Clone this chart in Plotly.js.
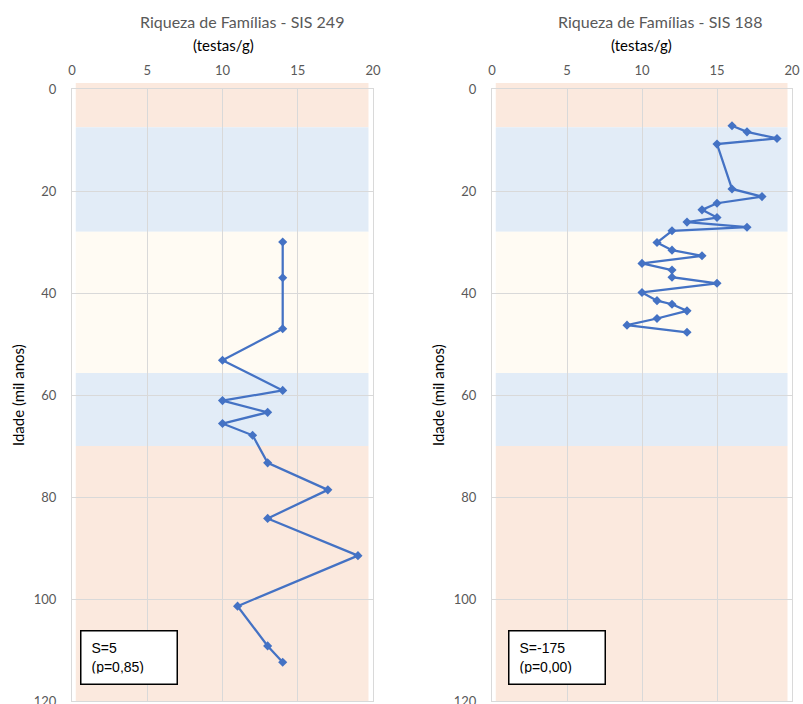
<!DOCTYPE html>
<html><head><meta charset="utf-8">
<script src="https://cdn.plot.ly/plotly-3.0.1.min.js"></script>
<style>body{margin:0;background:#fff}#chart{width:803px;height:704px}</style>
</head><body><div id="chart"></div>
<script>
// SIS 249
const ages249 = [30, 37, 47, 53.2, 59.1, 61.1, 63.4, 65.6, 67.9, 73.3, 78.6, 84.2, 91.5, 101.4, 109.2, 112.4];
const rich249 = [14, 14, 14, 10, 14, 10, 13, 10, 12, 13, 17, 13, 19, 11, 13, 14];
// SIS 188
const ages188 = [7.2, 8.4, 9.7, 10.8, 19.6, 21.1, 22.4, 23.7, 25.2, 26.1, 27.1, 27.8, 30.1, 31.6, 32.7, 34.2, 35.5, 36.9, 38.1, 39.9, 41.5, 42.2, 43.5, 45.0, 46.3, 47.7];
const rich188 = [16, 17, 19, 15, 16, 18, 15, 14, 15, 13, 17, 12, 11, 12, 14, 10, 12, 12, 15, 10, 11, 12, 13, 11, 9, 13];
// background bands (ages, mil anos)
const bandTop = [0, 7.5, 28, 55.7, 70];
const bandBottom = [7.5, 28, 55.7, 70, 120];
const bandColors = ['#FBE9DE', '#E2ECF7', '#FFFBF3', '#E2ECF7', '#FBE9DE'];
const xTicks = [0, 5, 10, 15, 20];
const yTicks = [0, 20, 40, 60, 80, 100, 120];
const titles = ['Riqueza de Famílias - SIS 249', 'Riqueza de Famílias - SIS 188'];
const stats = ['S=5<br>(p=0,85)', 'S=-175<br>(p=0,00)'];

const lineColor = '#4472C4';
const traces = [
  {x: rich249, y: ages249, xaxis: 'x', yaxis: 'y', type: 'scatter', mode: 'lines+markers',
   line: {color: lineColor, width: 2.25}, marker: {symbol: 'diamond', size: 7, color: lineColor}},
  {x: rich188, y: ages188, xaxis: 'x2', yaxis: 'y2', type: 'scatter', mode: 'lines+markers',
   line: {color: lineColor, width: 2.25}, marker: {symbol: 'diamond', size: 7, color: lineColor}}
];

const shapes = [];
['', '2'].forEach(s => {
  bandTop.forEach((t, i) => {
    shapes.push({type: 'rect', xref: 'x' + s, yref: 'y' + s, x0: 0.25, x1: 19.7,
      y0: t, y1: bandBottom[i], fillcolor: bandColors[i], line: {width: 0}, layer: 'below'});
  });
  // band overhang above the plot top
  shapes.push({type: 'rect', xref: 'x' + s, yref: 'paper', x0: 0.25, x1: 19.7,
    y0: 1, y1: 1 + 6 / 612, fillcolor: bandColors[0], line: {width: 0}, layer: 'below'});
});

const fam = 'Lato, "Open Sans", sans-serif';
const tickFont = {family: fam, size: 13, color: '#595959'};
function xa(domain, anchor) {
  return {domain: domain, anchor: anchor, side: 'top', range: [0, 20], tickvals: xTicks,
    showgrid: true, gridcolor: '#D9D9D9', gridwidth: 1, zeroline: false,
    showline: true, mirror: true, linecolor: '#D9D9D9', ticks: '', tickfont: tickFont,
    ticklabelstandoff: 8, ticklabeloverflow: 'allow', fixedrange: true};
}
function ya(anchor) {
  return {domain: [0, 1], anchor: anchor, range: [120, 0], tickvals: yTicks,
    showgrid: true, gridcolor: '#D9D9D9', gridwidth: 1, zeroline: false,
    showline: true, mirror: true, linecolor: '#D9D9D9', ticks: '', tickfont: tickFont,
    ticklabelstandoff: 12, ticklabeloverflow: 'allow', fixedrange: true};
}

const annotations = [];
const titleX = [242 / 803, 660 / 803];
const subX = [223 / 803, 641 / 803];
const yTitleX = [18 / 803, 438 / 803];
[0, 1].forEach(i => {
  annotations.push({xref: 'paper', yref: 'paper', x: titleX[i], y: 1 + (89 - 22) / 612,
    text: titles[i], showarrow: false, xanchor: 'center', yanchor: 'middle',
    font: {family: fam, size: 16, color: '#595959'}});
  annotations.push({xref: 'paper', yref: 'paper', x: subX[i], y: 1 + (89 - 45) / 612,
    text: '(testas/g)', showarrow: false, xanchor: 'center', yanchor: 'middle',
    font: {family: fam, size: 15, color: '#000000'}});
  annotations.push({xref: 'paper', yref: 'paper', x: yTitleX[i], y: 0.5,
    text: 'Idade (mil anos)', showarrow: false, textangle: -90, xanchor: 'center', yanchor: 'middle',
    font: {family: fam, size: 15, color: '#000000'}});
});
const boxX = [0.0266, 0.053];
[0, 1].forEach(i => {
  const s = i === 0 ? '' : '2';
  annotations.push({xref: 'x' + s + ' domain', yref: 'y' + s + ' domain', x: boxX[i], y: 0.116,
    xanchor: 'left', yanchor: 'top', text: stats[i], showarrow: false, align: 'left',
    width: 75, height: 32, borderpad: 10, bordercolor: '#000000', borderwidth: 1.5, bgcolor: '#FFFFFF',
    font: {family: '"Liberation Sans", Arial, sans-serif', size: 14, color: '#000000'}});
});

const layout = {
  width: 803, height: 704, margin: {l: 0, r: 0, t: 89, b: 3},
  paper_bgcolor: '#FFFFFF', plot_bgcolor: '#FFFFFF', showlegend: false,
  xaxis: xa([72 / 803, 373 / 803], 'y'), yaxis: ya('x'),
  xaxis2: xa([492 / 803, 792 / 803], 'y2'), yaxis2: ya('x2'),
  shapes: shapes, annotations: annotations
};
Plotly.newPlot('chart', traces, layout, {displayModeBar: false, staticPlot: true});
</script>
</body></html>
